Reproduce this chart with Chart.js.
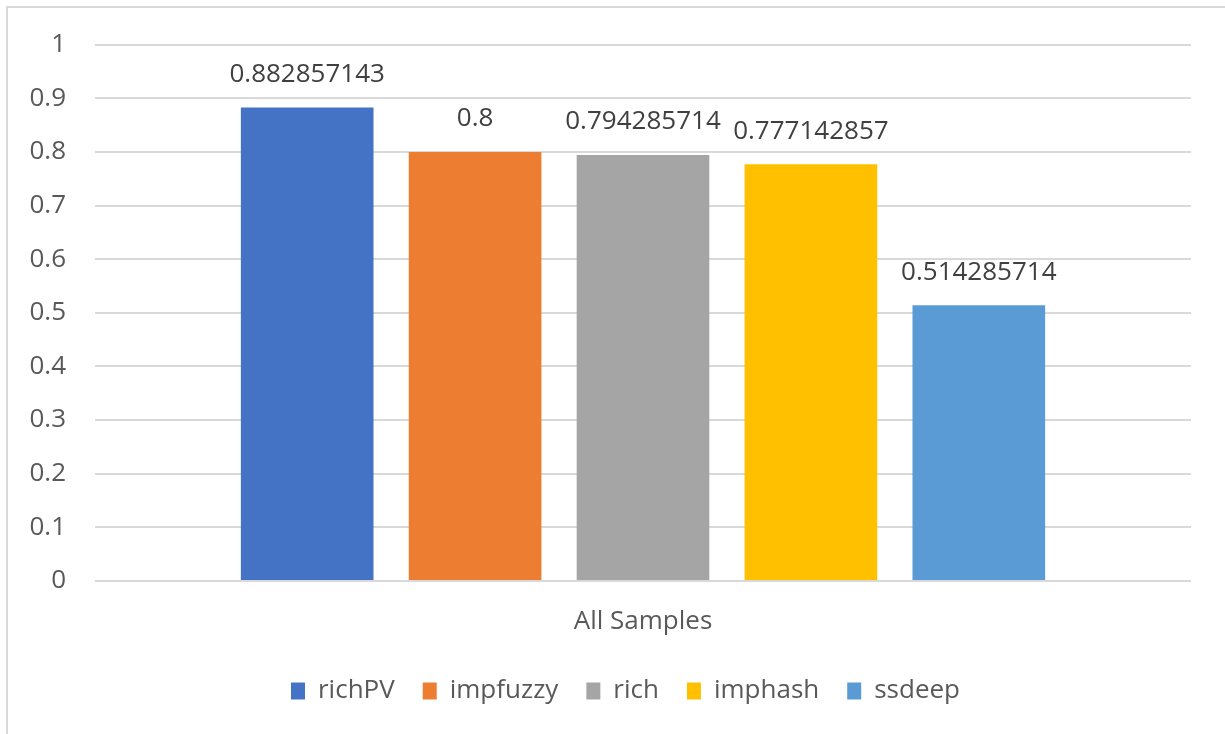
<!DOCTYPE html>
<html>
<head>
<meta charset="utf-8">
<script src="https://cdn.jsdelivr.net/npm/chart.js@4.4.1/dist/chart.umd.min.js"></script>
<style>
  html, body { margin: 0; padding: 0; background: #fff; }
  #wrap { width: 1225px; height: 734px; }
</style>
</head>
<body>
<div id="wrap"><canvas id="myChart" width="1225" height="734"></canvas></div>
<script>
// chart values
const categories = ['All Samples'];
const seriesNames = ['richPV', 'impfuzzy', 'rich', 'imphash', 'ssdeep'];
const seriesValues = [0.882857143, 0.8, 0.794285714, 0.777142857, 0.514285714];
const seriesColors = ['#4472C4', '#ED7D31', '#A5A5A5', '#FFC000', '#5B9BD5'];
const yTicks = [0, 0.1, 0.2, 0.3, 0.4, 0.5, 0.6, 0.7, 0.8, 0.9, 1];

const textColor = '#595959';
const fontFamily = '"Open Sans", "DejaVu Sans", sans-serif';

// outer frame like the Excel chart border
const framePlugin = {
    id: 'frame',
    beforeDraw(chart) {
        const c = chart.ctx;
        c.save();
        c.fillStyle = '#ffffff';
        c.fillRect(0, 0, chart.width, chart.height);
        c.strokeStyle = '#d9d9d9';
        c.lineWidth = 2;
        c.strokeRect(7, 7, chart.width, chart.height);
        c.restore();
    }
};

// the original legend sits a bit right of the plot centre
const legendShift = {
    id: 'legendShift',
    afterLayout(chart) {
        const lg = chart.legend;
        if (lg) {
            lg.left += 30;
            lg.right += 30;
        }
    }
};

// value labels above each bar
const valueLabels = {
    id: 'valueLabels',
    afterDatasetsDraw(chart) {
        const c = chart.ctx;
        c.save();
        c.font = '26px ' + fontFamily;
        c.fillStyle = '#404040';
        c.textAlign = 'center';
        c.textBaseline = 'bottom';
        chart.data.datasets.forEach((ds, i) => {
            const meta = chart.getDatasetMeta(i);
            meta.data.forEach((bar, j) => {
                c.fillText(String(ds.data[j]), bar.x, bar.y - 20);
            });
        });
        c.restore();
    }
};

const ctx = document.getElementById('myChart').getContext('2d');
const chart = new Chart(ctx, {
    type: 'bar',
    data: {
        labels: categories,
        datasets: seriesNames.map((name, i) => ({
            label: name,
            data: [seriesValues[i]],
            backgroundColor: seriesColors[i],
            borderWidth: 0,
            categoryPercentage: 0.766,
            barPercentage: 0.79
        }))
    },
    options: {
        responsive: false,
        animation: false,
        layout: { padding: { top: 44, right: 34, left: 0, bottom: 20 } },
        plugins: {
            tooltip: { enabled: false },
            legend: {
                position: 'bottom',
                labels: {
                    color: textColor,
                    font: { family: fontFamily, size: 26 },
                    boxWidth: 14,
                    boxHeight: 17,
                    padding: 28
                }
            }
        },
        scales: {
            x: {
                grid: { display: false, drawTicks: false },
                border: { display: false },
                ticks: {
                    color: textColor,
                    font: { family: fontFamily, size: 26 },
                    padding: 25
                },
                afterFit: scale => { scale.height = 69; }
            },
            y: {
                min: 0,
                max: 1,
                afterBuildTicks: scale => {
                    scale.ticks = yTicks.map(v => ({ value: v }));
                },
                grid: { color: '#d9d9d9', lineWidth: 2, drawTicks: false },
                border: { display: false },
                ticks: {
                    color: textColor,
                    font: { family: fontFamily, size: 26 },
                    padding: 29,
                    callback: value => String(Math.round(value * 10) / 10)
                },
                afterFit: scale => { scale.width = 95; }
            }
        }
    },
    plugins: [framePlugin, legendShift, valueLabels]
});
</script>
</body>
</html>
